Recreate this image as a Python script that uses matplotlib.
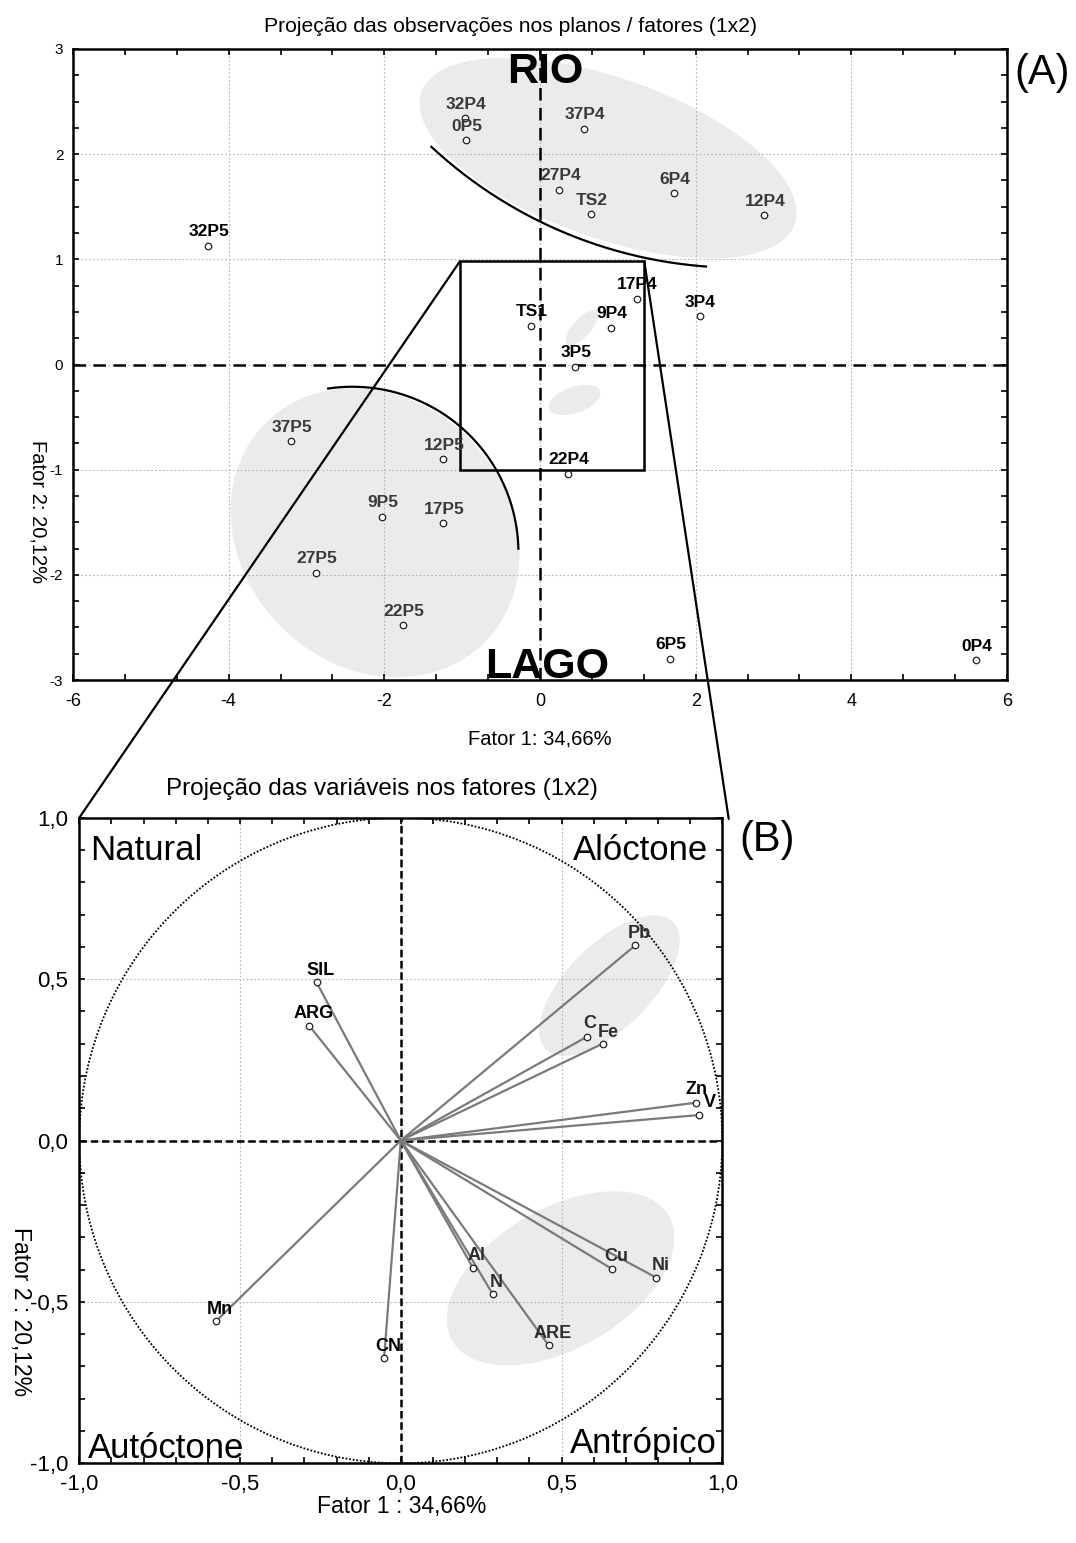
import numpy as np
import matplotlib
matplotlib.use("Agg")
import matplotlib.pyplot as plt
from matplotlib.patches import Polygon, Rectangle, ConnectionPatch
from matplotlib.ticker import MultipleLocator, FuncFormatter

plt.rcParams["font.family"] = ["Liberation Sans", "DejaVu Sans"]
plt.rcParams["axes.unicode_minus"] = False

# ---- Observation scores on factors 1 and 2 ----
obs_names = ["32P4", "0P5", "37P4", "27P4", "TS2", "6P4", "12P4", "17P4", "3P4",
             "TS1", "9P4", "3P5", "32P5", "22P4", "37P5", "12P5", "9P5", "17P5",
             "27P5", "22P5", "6P5", "0P4"]
obs_f1 = [-0.97, -0.95, 0.56, 0.25, 0.65, 1.72, 2.88, 1.24, 2.05,
          -0.12, 0.91, 0.45, -4.27, 0.36, -3.20, -1.24, -2.03, -1.24,
          -2.88, -1.76, 1.67, 5.60]
obs_f2 = [2.34, 2.13, 2.24, 1.66, 1.43, 1.63, 1.42, 0.625, 0.46,
          0.37, 0.35, -0.02, 1.13, -1.04, -0.73, -0.90, -1.45, -1.51,
          -1.98, -2.48, -2.80, -2.81]
obs_grouped = ["32P4", "0P5", "37P4", "27P4", "TS2", "6P4", "12P4",
               "37P5", "12P5", "9P5", "17P5", "27P5", "22P5"]

# ---- Variable loadings on factors 1 and 2 ----
var_names = ["SIL", "ARG", "C", "Fe", "Pb", "Zn", "V", "Al", "N", "Cu", "Ni", "ARE", "Mn", "CN"]
var_f1 = [-0.262, -0.285, 0.58, 0.628, 0.73, 0.917, 0.929, 0.224, 0.286, 0.657, 0.795, 0.46, -0.575, -0.052]
var_f2 = [0.49, 0.356, 0.322, 0.30, 0.605, 0.117, 0.079, -0.394, -0.476, -0.398, -0.425, -0.635, -0.56, -0.675]
var_grouped = ["C", "Fe", "Pb", "Al", "N", "Cu", "Ni", "ARE"]

W, H = 1076, 1543
fig = plt.figure(figsize=(W / 100, H / 100), dpi=100)
ax1 = fig.add_axes([73 / W, 1 - 680 / H, (1007 - 73) / W, (680 - 49) / H])
ax2 = fig.add_axes([79.3 / W, 1 - 1463.3 / H, (722.3 - 79.3) / W, (1463.3 - 817.7) / H])

GRID = dict(color="#b4b4b4", ls=(0, (1.5, 2)), lw=0.8)
SHADE = "#ebebeb"


def shade_ellipse(ax, cx, cy, a, b, angle, **kw):
    """Filled ellipse centred on a data point, with semi-axes given in pixels."""
    t = np.linspace(0, 2 * np.pi, 240)
    c, s = np.cos(np.radians(angle)), np.sin(np.radians(angle))
    dx = a * np.cos(t) * c - b * np.sin(t) * s
    dy = a * np.cos(t) * s + b * np.sin(t) * c
    X0, Y0 = ax.transData.transform((cx, cy))
    pts = ax.transData.inverted().transform(np.column_stack([X0 + dx, Y0 + dy]))
    ax.add_patch(Polygon(pts, closed=True, fc=SHADE, ec="none", zorder=0.3, **kw))


def arc(ax, cx, cy, r, a0, a1, **kw):
    """Circular arc (radius in pixels) around a data point."""
    t = np.radians(np.linspace(a0, a1, 200))
    X0, Y0 = ax.transData.transform((cx, cy))
    pts = ax.transData.inverted().transform(np.column_stack([X0 + r * np.cos(t), Y0 + r * np.sin(t)]))
    ax.plot(pts[:, 0], pts[:, 1], color="k", lw=1.6, zorder=4, clip_on=False, **kw)


def style_axes(ax):
    for sp in ax.spines.values():
        sp.set_linewidth(1.8)
        sp.set_color("k")
    ax.tick_params(which="both", direction="in", top=True, right=True, length=4, width=1.2)


# ================= (A) observations =================
ax1.set_xlim(-6, 6)
ax1.set_ylim(-3, 3)
ax1.set_xticks(range(-6, 7, 2))
ax1.set_yticks(range(-3, 4))
ax1.xaxis.set_minor_locator(MultipleLocator(2 / 3))
ax1.yaxis.set_minor_locator(MultipleLocator(0.25))
style_axes(ax1)
ax1.tick_params(axis="x", labelsize=13, pad=9)
ax1.tick_params(axis="y", labelsize=11, pad=7)
ax1.set_axisbelow(True)
ax1.grid(True, which="major", **GRID)

shade_ellipse(ax1, 0.874, 1.963, 198, 80, -19.5)
shade_ellipse(ax1, -2.12, -1.60, 155, 133, -45)
shade_ellipse(ax1, 0.54, 0.35, 22, 9, 48)
shade_ellipse(ax1, 0.443, -0.337, 27, 13, 19)

arc(ax1, 2.558, 5.218, 452, -132.9, -94.2)
arc(ax1, -2.41, -1.79, 166, 98.4, 1.4)

ax1.axhline(0, color="k", ls=(0, (5, 3)), lw=1.8, zorder=3)
ax1.axvline(0, color="k", ls=(0, (5, 3)), lw=1.8, zorder=3)

ax1.add_patch(Rectangle((-1.03, -1.0), 2.37, 1.98, fill=False, ec="k", lw=1.8, zorder=4))

ax1.scatter(obs_f1, obs_f2, s=22, facecolors="white", edgecolors="#222222", linewidths=0.9, zorder=6)
for name, x, y in zip(obs_names, obs_f1, obs_f2):
    col = "#3a3a3a" if name in obs_grouped else "black"
    ax1.annotate(name, (x, y), xytext=(1, 14), textcoords="offset pixels",
                 ha="center", va="center", fontsize=12.5, fontweight="bold", color=col, zorder=7)

ax1.text(0.064, 2.676, "RIO", ha="center", va="baseline", fontsize=31, fontweight="bold", zorder=7)
ax1.text(0.09, -2.977, "LAGO", ha="center", va="baseline", fontsize=31, fontweight="bold", zorder=7)

fig.text(510 / W, 1 - 26 / H, "Projeção das observações nos planos / fatores (1x2)",
         ha="center", va="center", fontsize=15.2)
fig.text(540 / W, 1 - 739 / H, "Fator 1: 34,66%", ha="center", va="center", fontsize=14.5)
fig.text(38 / W, 1 - 512 / H, "Fator 2: 20,12%", ha="center", va="center", fontsize=14.5, rotation=270)
fig.text(1042 / W, 1 - 73 / H, "(A)", ha="center", va="center", fontsize=30)

# ================= (B) variables =================
comma = FuncFormatter(lambda v, p: f"{v:.1f}".replace(".", ","))
ax2.set_xlim(-1, 1)
ax2.set_ylim(-1, 1)
ax2.set_xticks([-1, -0.5, 0, 0.5, 1])
ax2.set_yticks([-1, -0.5, 0, 0.5, 1])
ax2.xaxis.set_major_formatter(comma)
ax2.yaxis.set_major_formatter(comma)
ax2.xaxis.set_minor_locator(MultipleLocator(0.1))
ax2.yaxis.set_minor_locator(MultipleLocator(0.1))
style_axes(ax2)
ax2.tick_params(axis="both", labelsize=16, pad=8)
ax2.set_axisbelow(True)
ax2.grid(True, which="major", **GRID)

shade_ellipse(ax2, 0.649, 0.48, 90, 42, 45)
shade_ellipse(ax2, 0.497, -0.427, 125, 70, 30)

th = np.linspace(0, 2 * np.pi, 400)
ax2.plot(np.cos(th), np.sin(th), color="k", ls=(0, (1, 1)), lw=1.3, zorder=2)
ax2.axhline(0, color="k", ls=(0, (3, 1.5)), lw=1.8, zorder=3)
ax2.axvline(0, color="k", ls=(0, (3, 1.5)), lw=1.8, zorder=3)

for x, y in zip(var_f1, var_f2):
    ax2.plot([0, x], [0, y], color="#7a7a7a", lw=1.6, zorder=4)
ax2.scatter(var_f1, var_f2, s=22, facecolors="white", edgecolors="#222222", linewidths=0.9, zorder=6)
label_shift = {"Zn": (1, 13), "V": (10, 12), "C": (2, 13), "Fe": (6, 11)}
for name, x, y in zip(var_names, var_f1, var_f2):
    col = "#2e2e2e" if name in var_grouped else "black"
    ax2.annotate(name, (x, y), xytext=label_shift.get(name, (4, 12)), textcoords="offset pixels",
                 ha="center", va="center", fontsize=13, fontweight="bold", color=col, zorder=7)

ax2.text(0.017, 0.934, "Natural", transform=ax2.transAxes, fontsize=25, va="baseline", ha="left")
ax2.text(0.978, 0.934, "Alóctone", transform=ax2.transAxes, fontsize=25, va="baseline", ha="right")
ax2.text(0.0135, 0.008, "Autóctone", transform=ax2.transAxes, fontsize=25, va="baseline", ha="left")
ax2.text(0.991, 0.0164, "Antrópico", transform=ax2.transAxes, fontsize=25, va="baseline", ha="right")

fig.text(382 / W, 1 - 789 / H, "Projeção das variáveis nos fatores (1x2)", ha="center", va="center", fontsize=17.5)
fig.text(402 / W, 1 - 1506 / H, "Fator 1 : 34,66%", ha="center", va="center", fontsize=16.5)
fig.text(20 / W, 1 - 1312 / H, "Fator 2 : 20,12%", ha="center", va="center", fontsize=16.5, rotation=270)
fig.text(767 / W, 1 - 840 / H, "(B)", ha="center", va="center", fontsize=30)

# zoom connectors from the inset box to panel (B)
for xyA, xyB in [((-1.03, 0.98), (0.0, 1.0)), ((1.34, 0.98), (1.01, 0.998))]:
    con = ConnectionPatch(xyA=xyA, xyB=xyB, coordsA="data", coordsB="axes fraction",
                          axesA=ax1, axesB=ax2, color="k", lw=1.6)
    fig.add_artist(con)

fig.savefig("out.png", dpi=100, facecolor="white")
